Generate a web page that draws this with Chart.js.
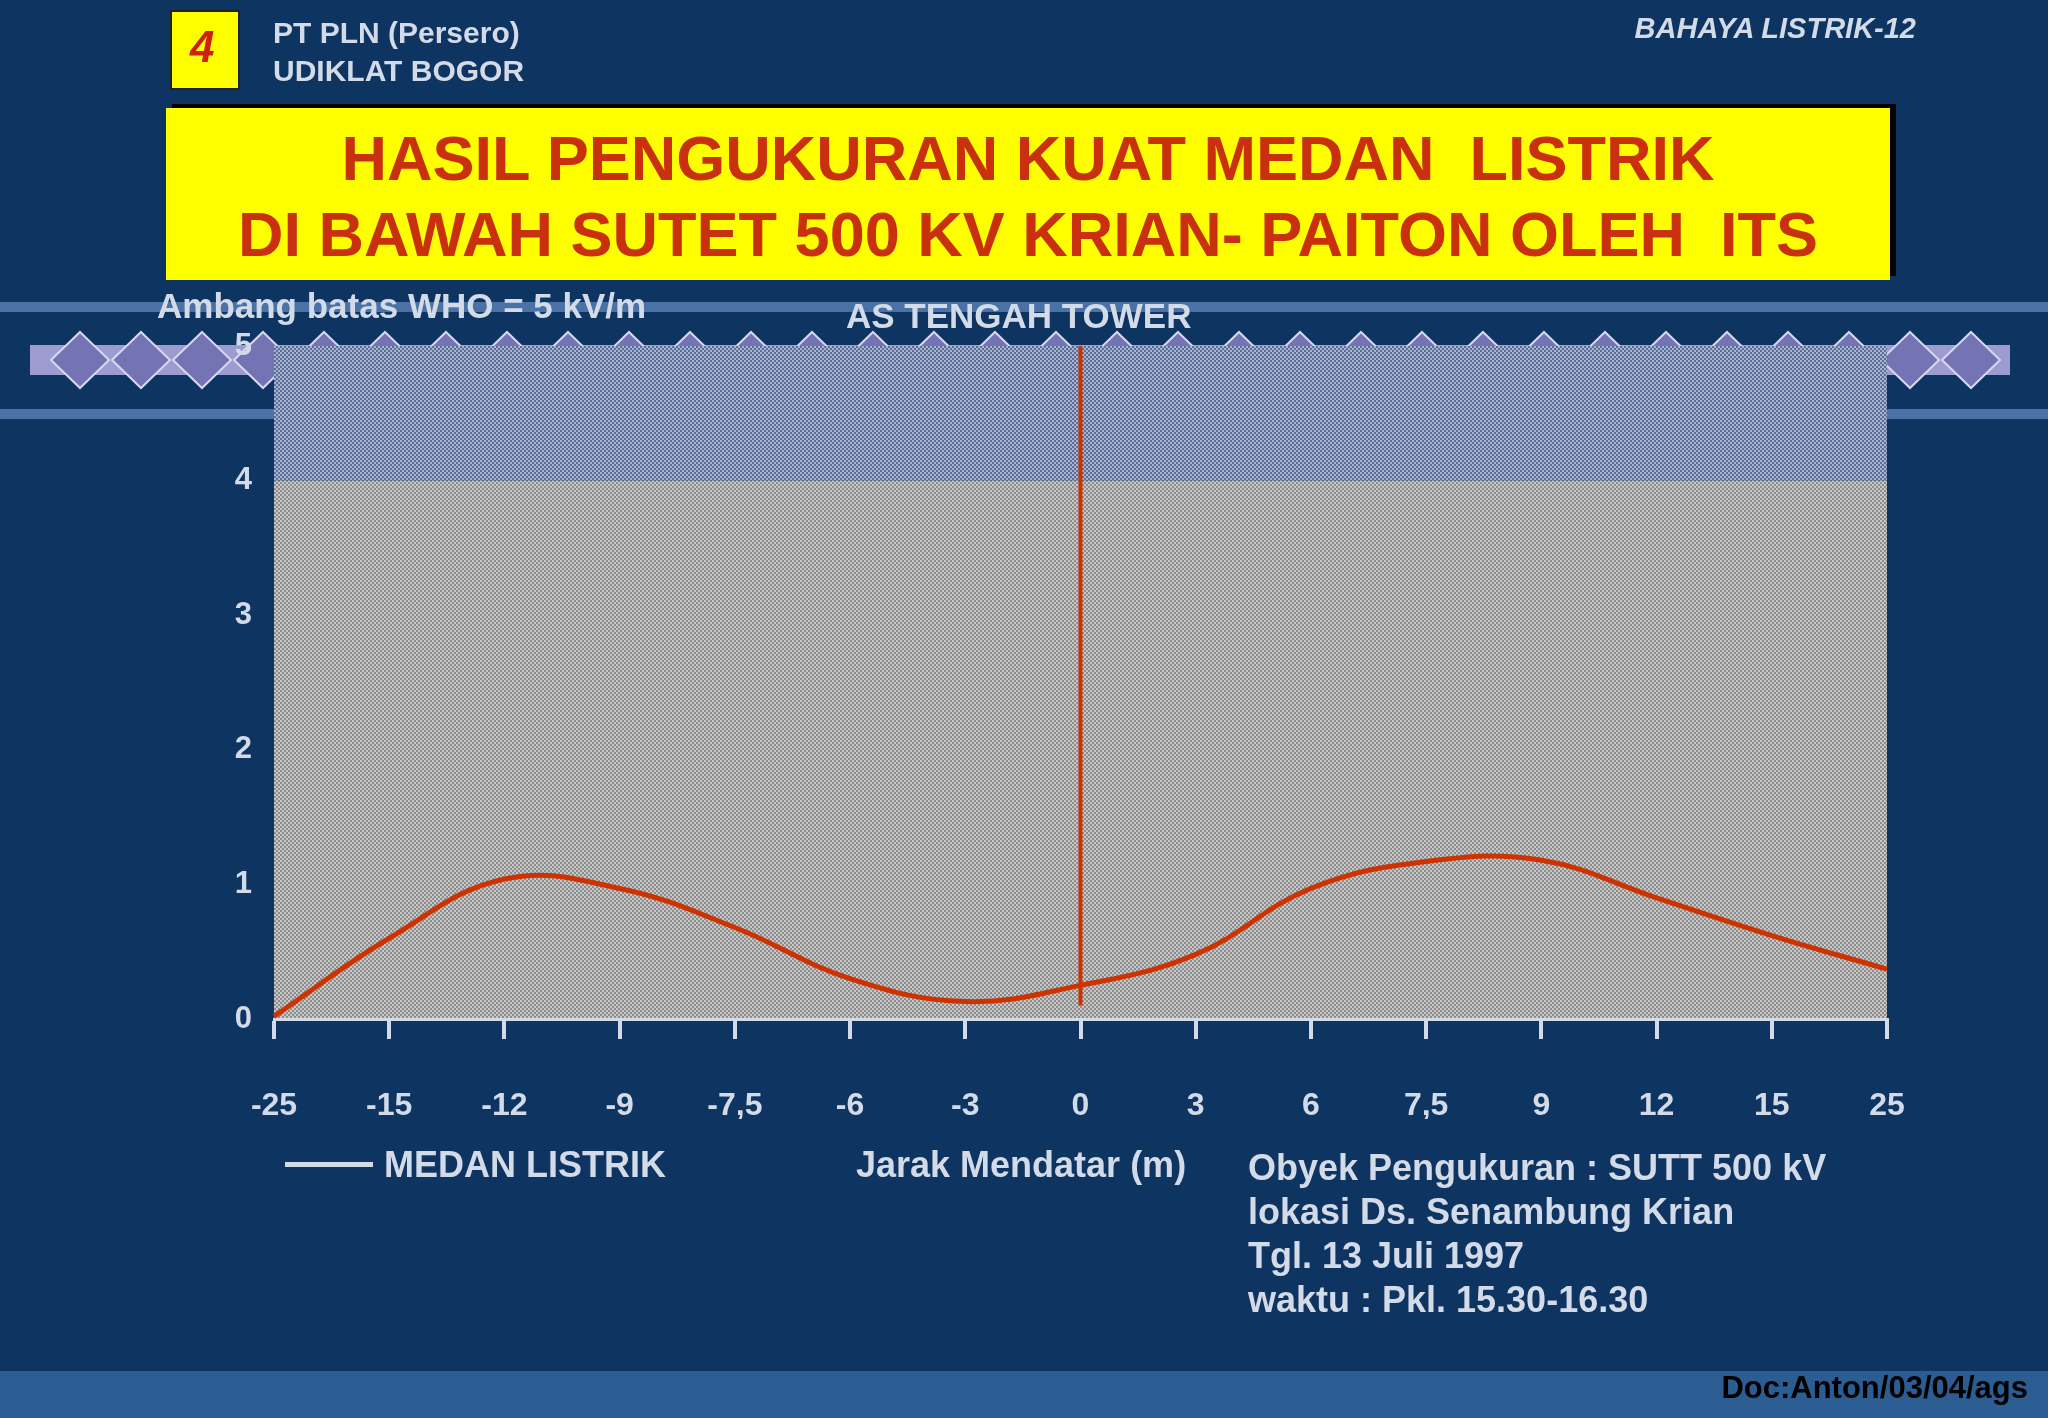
<!DOCTYPE html>
<html>
<head>
<meta charset="utf-8">
<script src="https://cdn.jsdelivr.net/npm/chart.js@4/dist/chart.umd.min.js"></script>
<style>
  body { margin:0; width:2048px; height:1418px; background:#0e3462; overflow:hidden; position:relative;
         font-family:"Liberation Sans", Arial, sans-serif; font-weight:bold; }
  canvas { position:absolute; left:0; top:0; }
  .t { position:absolute; white-space:nowrap; }
</style>
</head>
<body>
<canvas id="chart" width="2048" height="1418"></canvas>

<div class="t" style="left:170px;top:10px;width:66px;height:76px;background:#ffff00;border:2px solid #222;"></div>
<div class="t" style="left:190px;top:22px;font-size:44px;color:#d02010;font-style:italic;">4</div>
<div class="t" style="left:273px;top:14px;font-size:30px;color:#d4dbe8;line-height:38px;">PT PLN (Persero)<br>UDIKLAT BOGOR</div>
<div class="t" style="right:132px;top:12px;font-size:29px;color:#d4dbe8;font-style:italic;">BAHAYA LISTRIK-12</div>

<div class="t" style="left:166px;top:108px;width:1724px;height:172px;background:#ffff00;box-shadow:6px -4px 0 #000;
     text-align:center;color:#c8300e;font-size:63px;line-height:76px;padding-top:12px;box-sizing:border-box;">
  HASIL PENGUKURAN KUAT MEDAN&nbsp; LISTRIK<br>DI BAWAH SUTET 500 KV KRIAN- PAITON OLEH&nbsp; ITS</div>

<div class="t" style="left:157px;top:286px;font-size:35px;color:#d4dbe8;">Ambang batas WHO = 5 kV/m</div>
<div class="t" style="left:846px;top:296px;font-size:35px;color:#d4dbe8;">AS TENGAH TOWER</div>

<div class="t" style="left:285px;top:1162px;width:88px;height:5px;background:#d4dbe8;"></div>
<div class="t" style="left:384px;top:1144px;font-size:36px;color:#d4dbe8;">MEDAN LISTRIK</div>
<div class="t" style="left:856px;top:1144px;font-size:36px;color:#d4dbe8;">Jarak Mendatar (m)</div>
<div class="t" style="left:1248px;top:1146px;font-size:36px;color:#d4dbe8;line-height:44px;">Obyek Pengukuran : SUTT 500 kV<br>lokasi Ds. Senambung Krian<br>Tgl. 13 Juli 1997<br>waktu : Pkl. 15.30-16.30</div>

<div class="t" style="left:0;top:1371px;width:2048px;height:47px;background:#2b5c92;"></div>
<div class="t" style="right:20px;top:1370px;font-size:31px;color:#000;">Doc:Anton/03/04/ags</div>

<script>
const distances = ['-25','-15','-12','-9','-7,5','-6','-3','0','3','6','7,5','9','12','15','25'];
const fieldValues = [0.02, 0.6, 1.04, 0.97, 0.68, 0.3, 0.13, 0.25, 0.48, 0.97, 1.17, 1.18, 0.9, 0.62, 0.37];
const yTicks = [0, 1, 2, 3, 4, 5];
const whoBandFrom = 4;
const towerIndex = 7;

function makePattern(a, b) {
  const c = document.createElement('canvas');
  c.width = 4; c.height = 4;
  const g = c.getContext('2d');
  g.fillStyle = a; g.fillRect(0, 0, 4, 4);
  g.fillStyle = b; g.fillRect(0, 0, 2, 2); g.fillRect(2, 2, 2, 2);
  return g.createPattern(c, 'repeat');
}

const decor = {
  id: 'decor',
  beforeDraw(chart) {
    const ctx = chart.ctx, a = chart.chartArea, y = chart.scales.y;
    ctx.save();
    ctx.fillStyle = '#4a72a6';
    ctx.fillRect(0, 302, 2048, 10);
    ctx.fillRect(0, 409, 2048, 10);
    ctx.fillStyle = '#9c9cd0';
    ctx.fillRect(30, 345, 1980, 30);
    for (let x = 80; x < 2000; x += 61) {
      ctx.beginPath();
      ctx.moveTo(x, 332); ctx.lineTo(x + 29, 360); ctx.lineTo(x, 388); ctx.lineTo(x - 29, 360); ctx.closePath();
      ctx.fillStyle = '#7474b4'; ctx.fill();
      ctx.strokeStyle = '#d8d8f0'; ctx.lineWidth = 2; ctx.stroke();
    }
    const yb = y.getPixelForValue(whoBandFrom);
    ctx.fillStyle = makePattern('#5a6e9c', '#aab4cc');
    ctx.fillRect(a.left, a.top, a.right - a.left, yb - a.top);
    ctx.fillStyle = makePattern('#8c8c8c', '#c8c8c8');
    ctx.fillRect(a.left, yb, a.right - a.left, a.bottom - yb);
    ctx.restore();
  },
  afterDatasetsDraw(chart) {
    const ctx = chart.ctx, x = chart.scales.x.getPixelForValue(towerIndex), y = chart.scales.y;
    ctx.save();
    ctx.strokeStyle = '#cc3300'; ctx.lineWidth = 4;
    ctx.beginPath(); ctx.moveTo(x, y.getPixelForValue(5)); ctx.lineTo(x, y.getPixelForValue(0.1)); ctx.stroke();
    ctx.restore();
  }
};

new Chart(document.getElementById('chart'), {
  type: 'line',
  data: {
    labels: distances,
    datasets: [{
      label: 'MEDAN LISTRIK',
      data: fieldValues,
      borderColor: '#cc3300',
      borderWidth: 5,
      pointRadius: 0,
      tension: 0.4
    }]
  },
  options: {
    responsive: false,
    animation: false,
    layout: { padding: { left: 200, top: 346, right: 161, bottom: 299 } },
    plugins: { legend: { display: false }, tooltip: { enabled: false } },
    scales: {
      x: {
        offset: false,
        afterFit: s => { s.height = 100; },
        grid: { display: true, drawOnChartArea: false, color: '#d4dbe8', lineWidth: 4, tickLength: 20 },
        border: { color: '#d4dbe8', width: 3 },
        ticks: { color: '#d4dbe8', padding: 48, maxRotation: 0, autoSkip: false,
                 font: { family: 'Liberation Sans', weight: 'bold', size: 32 } }
      },
      y: {
        min: 0, max: 5,
        afterFit: s => { s.width = 74; },
        afterBuildTicks: s => { s.ticks = yTicks.map(v => ({ value: v })); },
        grid: { display: false },
        border: { display: false },
        ticks: { color: '#d4dbe8', padding: 14,
                 font: { family: 'Liberation Sans', weight: 'bold', size: 31 } }
      }
    }
  },
  plugins: [decor]
});
</script>
</body>
</html>
